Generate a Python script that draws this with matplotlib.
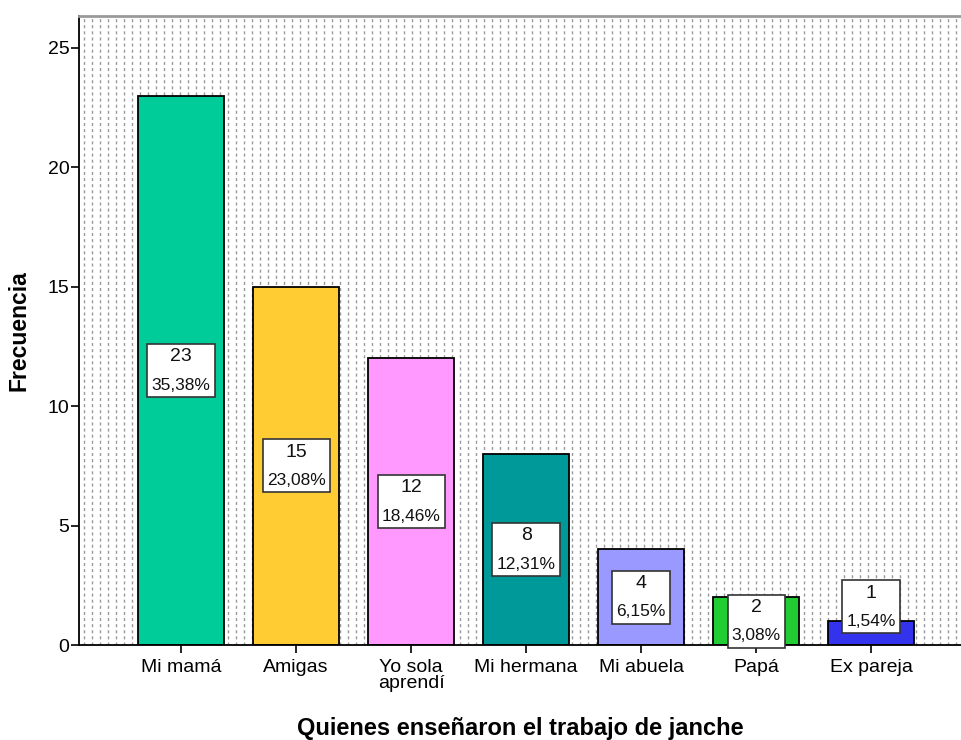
import numpy as np
import matplotlib.pyplot as plt
from matplotlib.offsetbox import AnnotationBbox, TextArea, VPacker

categorias = ['Mi mamá', 'Amigas', 'Yo sola\naprendí', 'Mi hermana', 'Mi abuela', 'Papá', 'Ex pareja']
frecuencias = [23, 15, 12, 8, 4, 2, 1]
porcentajes = ['35,38%', '23,08%', '18,46%', '12,31%', '6,15%', '3,08%', '1,54%']
colores = ['#00CC99', '#FFCC33', '#FF99FF', '#009999', '#9999FF', '#22CC33', '#3333EE']

plt.rcParams['font.family'] = ['Liberation Sans', 'DejaVu Sans']

fig = plt.figure(figsize=(9.61, 7.40), dpi=100)
ax = fig.add_axes([79/961, 1 - 645/740, 1 - 79/961, (645 - 16)/740])

# fondo punteado estilo SPSS
xs = np.arange(5/882, 1, 8/882)
ax.vlines(xs, 0, 1, transform=ax.transAxes, color='#999999', lw=1.0,
          linestyles=[(0, (2.2, 2.2))], zorder=0)

x = np.arange(len(categorias))
ax.bar(x, frecuencias, width=0.75, color=colores, edgecolor='black', linewidth=1.3, zorder=2)

for xi, v, p in zip(x, frecuencias, porcentajes):
    # barras muy bajas: la caja sube para no pasar del eje
    yc = v / 2 if v >= 2 else v / 2 + 1.1
    caja = VPacker(children=[TextArea(str(v), textprops=dict(fontsize=14, color='#111111')),
                             TextArea(p, textprops=dict(fontsize=12.5, color='#111111'))],
                   align='center', pad=0, sep=9)
    ab = AnnotationBbox(caja, (xi, yc), frameon=True, pad=0.2, zorder=5,
                        bboxprops=dict(boxstyle='square', fc='white', ec='#333333', lw=1.2))
    ax.add_artist(ab)

ax.set_xlim(-0.887, 6.78)
ax.set_ylim(0, 26.34)
ax.set_xticks(x)
ax.set_xticklabels(categorias, fontsize=14, linespacing=0.95)
ax.set_yticks([0, 5, 10, 15, 20, 25])
ax.tick_params(axis='y', labelsize=14, length=6, width=1.2, pad=1)
ax.tick_params(axis='x', length=6, width=1.2, pad=4)

ax.spines['right'].set_visible(False)
ax.spines['top'].set_color('#999999')
ax.spines['top'].set_linewidth(2)
ax.spines['left'].set_linewidth(1.3)
ax.spines['bottom'].set_linewidth(1.3)

ax.set_ylabel('Frecuencia', fontsize=16.5, fontweight='bold', labelpad=12)
ax.set_xlabel('Quienes enseñaron el trabajo de janche', fontsize=17, fontweight='bold', labelpad=18)

fig.savefig('out.png', dpi=100)
